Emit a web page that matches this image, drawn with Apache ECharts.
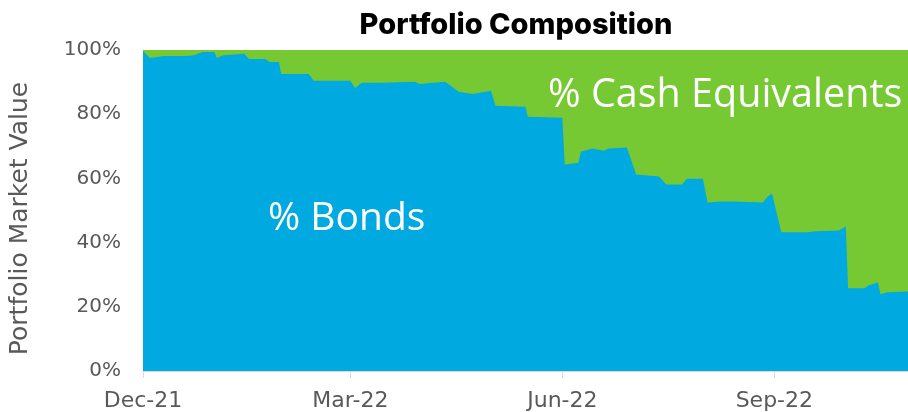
<!DOCTYPE html>
<html>
<head>
<meta charset="utf-8">
<script src="https://cdn.jsdelivr.net/npm/echarts@6/dist/echarts.min.js"></script>
<style>
  html, body { margin: 0; padding: 0; background: #fff; }
  #chart-container { width: 908px; height: 412px; }
</style>
</head>
<body>
<div id="chart-container"></div>
<script>
// dates where the bond share changes
var dates = [
    '2021-12-01', '2021-12-04', '2021-12-10', '2021-12-20', '2021-12-23', '2021-12-27',
    '2022-01-01', '2022-01-02', '2022-01-04', '2022-01-05', '2022-01-14', '2022-01-16',
    '2022-01-23', '2022-01-25', '2022-01-29', '2022-01-30', '2022-02-11', '2022-02-13',
    '2022-03-01', '2022-03-03', '2022-03-06', '2022-03-15', '2022-03-29', '2022-03-31',
    '2022-04-11', '2022-04-13', '2022-04-17', '2022-04-23', '2022-05-01', '2022-05-03',
    '2022-05-16', '2022-05-17', '2022-06-01', '2022-06-02', '2022-06-08', '2022-06-09',
    '2022-06-14', '2022-06-19', '2022-06-21', '2022-06-29', '2022-07-03', '2022-07-13',
    '2022-07-16', '2022-07-23', '2022-07-25', '2022-08-01', '2022-08-03', '2022-08-09',
    '2022-08-14', '2022-08-27', '2022-08-29', '2022-08-31', '2022-09-04', '2022-09-15',
    '2022-09-19', '2022-09-29', '2022-10-02', '2022-10-03', '2022-10-10', '2022-10-12',
    '2022-10-16', '2022-10-17', '2022-10-20', '2022-10-29'
];
var bondPct = [
    99.7, 97.5, 98.1, 98.1, 98.4, 99.4,
    99.4, 97.5, 98.1, 98.4, 98.8, 97.2,
    97.2, 96.3, 96.3, 92.5, 92.5, 90.4,
    90.4, 88.2, 89.8, 89.8, 90.1, 89.4,
    90.1, 89.2, 87.0, 86.3, 87.3, 82.6,
    82.3, 79.2, 78.9, 64.3, 64.9, 68.3,
    69.3, 68.6, 69.3, 69.6, 61.2, 60.6,
    58.1, 58.1, 59.9, 59.9, 52.5, 52.8,
    52.8, 52.5, 54.3, 55.3, 43.2, 43.2,
    43.5, 43.8, 45.0, 25.8, 25.8, 26.7,
    27.6, 23.9, 24.5, 24.8
];
var cashPct = bondPct.map(function (v) { return +(100 - v).toFixed(1); });

var tickDates = ['2021-12-01', '2022-03-01', '2022-06-01', '2022-09-01'];
var monthNames = ['Jan', 'Feb', 'Mar', 'Apr', 'May', 'Jun', 'Jul', 'Aug', 'Sep', 'Oct', 'Nov', 'Dec'];

function ts(s) {
    var p = s.split('-');
    return Date.UTC(+p[0], +p[1] - 1, +p[2]);
}

var tickValues = tickDates.map(ts);
var bondData = dates.map(function (d, i) { return [ts(d), bondPct[i]]; });
// stack by hand: a value x axis would make echarts stack on x instead of y
var cashTopData = dates.map(function (d, i) { return [ts(d), bondPct[i] + cashPct[i]]; });

var chartDom = document.getElementById('chart-container');
var myChart = echarts.init(chartDom);

var axisFont = '"DejaVu Sans", sans-serif';

var option = {
    animation: false,
    title: {
        text: 'Portfolio Composition',
        left: 511,
        top: 6,
        textAlign: 'center',
        textStyle: {
            fontFamily: 'Inter, sans-serif',
            fontWeight: 800,
            fontSize: 29,
            color: '#000'
        }
    },
    grid: {
        left: 141,
        right: 0,
        top: 50,
        bottom: 40
    },
    xAxis: {
        // timestamps on a value axis so the ticks can sit on chosen month starts
        type: 'value',
        min: ts(dates[0]),
        max: ts(dates[dates.length - 1]),
        axisLine: { show: true, lineStyle: { color: '#d9d9d9', width: 1 } },
        axisTick: {
            show: true,
            length: 7,
            lineStyle: { color: '#d9d9d9' },
            customValues: tickValues
        },
        axisLabel: {
            customValues: tickValues,
            margin: 19,
            fontSize: 22,
            color: '#595959',
            fontFamily: axisFont,
            formatter: function (val) {
                var d = new Date(val);
                return monthNames[d.getUTCMonth()] + '-' + String(d.getUTCFullYear()).slice(2);
            }
        },
        splitLine: { show: false }
    },
    yAxis: {
        type: 'value',
        min: 0,
        max: 100,
        interval: 20,
        name: 'Portfolio Market Value',
        nameLocation: 'middle',
        nameGap: 110,
        nameTextStyle: {
            fontSize: 25,
            color: '#595959',
            fontFamily: axisFont,
            padding: [0, 16, 0, 0]
        },
        axisLine: { show: false },
        axisTick: { show: false },
        axisLabel: {
            margin: 22,
            fontSize: 20,
            color: '#595959',
            fontFamily: axisFont,
            formatter: '{value}%'
        },
        splitLine: { show: true, lineStyle: { color: '#d9d9d9' } }
    },
    series: [
        {
            name: '% Cash Equivalents',
            type: 'line',
            z: 2,
            data: cashTopData,
            showSymbol: false,
            lineStyle: { width: 0 },
            itemStyle: { color: '#76c933' },
            areaStyle: { color: '#76c933', opacity: 1 }
        },
        {
            name: '% Bonds',
            type: 'line',
            z: 3,
            data: bondData,
            showSymbol: false,
            lineStyle: { width: 0 },
            itemStyle: { color: '#00a9e0' },
            areaStyle: { color: '#00a9e0', opacity: 1 }
        }
    ],
    graphic: [
        {
            type: 'text',
            z: 10,
            left: 268,
            top: 199,
            style: {
                text: '% Bonds',
                fill: '#fff',
                font: '39px "Open Sans", sans-serif'
            }
        },
        {
            type: 'text',
            z: 10,
            left: 548,
            top: 76,
            style: {
                text: '% Cash Equivalents',
                fill: '#fff',
                font: '39.5px "Open Sans", sans-serif'
            }
        }
    ]
};

myChart.setOption(option);
</script>
</body>
</html>
